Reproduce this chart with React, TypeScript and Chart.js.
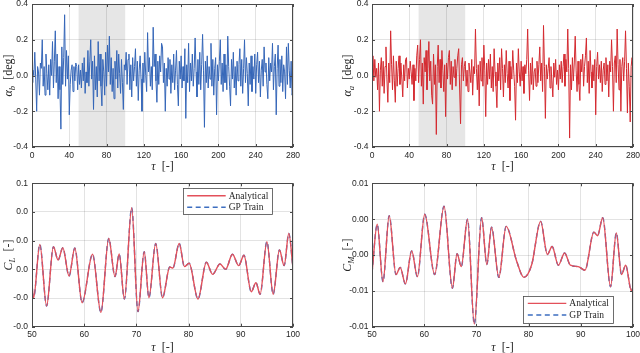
import React, { useEffect, useRef } from 'react';
import { Chart, registerables } from 'chart.js';
Chart.register(...registerables);

// ---------- data ----------
const alphaBValues = [
  -0.04, 0.03, 0.0, 0.13, -0.02, -0.2, 0.05, 0.02, -0.11, 0.07,
  0.04, 0.2, -0.06, 0.05, -0.11, 0.12, 0.01, -0.08, 0.06, -0.11,
  0.09, 0.0, 0.19, -0.07, 0.08, 0.25, -0.04, 0.12, -0.13, 0.05,
  -0.08, -0.3, 0.16, -0.05, 0.1, 0.34, -0.06, 0.14, -0.02, 0.11,
  -0.22, -0.05, 0.03, 0.06, -0.09, 0.05, -0.03, 0.07, 0.05, -0.08,
  0.06, -0.05, 0.03, -0.07, 0.07, -0.03, 0.1, -0.1, 0.02, -0.04,
  0.14, -0.06, 0.08, 0.2, -0.02, 0.08, -0.19, 0.11, -0.08, 0.05,
  -0.12, 0.19, -0.03, 0.12, -0.06, -0.17, 0.09, 0.02, -0.11, 0.13,
  -0.06, 0.17, 0.02, 0.22, -0.05, 0.1, -0.09, 0.04, -0.13, 0.08,
  -0.02, 0.14, -0.07, 0.12, 0.01, -0.1, 0.09, -0.04, -0.19, 0.06,
  0.03, 0.13, -0.05, 0.09, 0.12, -0.08, 0.06, -0.12, 0.1, -0.03,
  0.05, 0.15, -0.06, 0.08, -0.14, 0.03, 0.11, -0.02, -0.2, 0.07,
  -0.04, 0.13, 0.0, -0.09, 0.24, 0.02, 0.1, -0.06, 0.05, -0.08,
  0.27, 0.05, 0.12, -0.03, -0.15, 0.08, -0.05, 0.11, 0.02, 0.18,
  0.16, -0.04, 0.07, -0.2, 0.04, -0.06, 0.1, -0.02, 0.09, -0.1,
  0.06, -0.04, 0.12, -0.08, 0.03, 0.14, -0.05, -0.17, 0.08, -0.02,
  0.11, -0.07, 0.05, -0.03, 0.15, -0.24, 0.06, -0.04, 0.18, -0.09,
  0.07, -0.03, 0.12, -0.06, 0.04, 0.21, 0.02, -0.12, 0.09, -0.05,
  0.13, -0.08, 0.06, 0.23, 0.03, -0.29, 0.08, -0.04, 0.11, -0.07,
  0.05, -0.02, 0.18, -0.06, 0.09, -0.11, 0.04, 0.1, -0.22, 0.06,
  -0.03, 0.08, 0.2, -0.05, 0.07, -0.09, 0.12, -0.04, 0.06, -0.08,
  0.22, 0.05, -0.06, -0.17, 0.09, -0.02, 0.13, -0.07, 0.05, -0.11,
  0.08, -0.03, 0.06, 0.15, -0.06, 0.09, -0.1, 0.04, 0.2, -0.04,
  0.1, 0.01, -0.17, 0.07, -0.05, 0.11, -0.09, 0.05, -0.02, 0.12,
  -0.1, 0.06, 0.13, -0.04, 0.08, -0.12, 0.03, 0.09, -0.06, 0.16,
  0.02, 0.07, -0.05, -0.13, 0.1, -0.03, 0.07, 0.02, 0.18, -0.08,
  0.05, 0.12, -0.22, 0.04, 0.17, -0.06, 0.09, -0.04, 0.11, -0.09,
  0.06, 0.02, -0.13, 0.16, -0.05, 0.18, 0.03, -0.07, 0.08, -0.11,
  -0.08,
];

const alphaAValues = [
  0.05, 0.11, -0.03, 0.09, -0.01, 0.04, -0.08, 0.07, -0.2, 0.03,
  0.1, -0.06, 0.08, -0.1, 0.05, 0.16, -0.02, -0.15, 0.07, -0.04,
  0.25, 0.06, -0.08, 0.11, -0.03, -0.15, 0.08, -0.06, 0.04, 0.11,
  -0.05, 0.07, -0.02, -0.12, 0.06, -0.03, 0.09, 0.1, -0.07, 0.04,
  -0.02, 0.08, 0.02, -0.05, 0.06, -0.14, 0.04, -0.03, 0.11, 0.17,
  -0.04, 0.09, 0.2, -0.06, 0.07, -0.16, 0.1, 0.02, 0.14, -0.08,
  0.04, 0.19, -0.03, 0.08, -0.11, -0.16, 0.12, -0.05, 0.06, -0.33,
  0.05, 0.17, -0.04, 0.09, -0.07, 0.14, 0.03, -0.09, 0.06, -0.23,
  0.07, -0.02, 0.1, 0.14, -0.05, 0.08, -0.08, 0.05, -0.01, 0.09,
  -0.06, 0.04, 0.11, 0.15, -0.07, -0.27, 0.06, 0.1, -0.03, 0.05,
  0.08, -0.06, 0.03, -0.09, 0.07, 0.02, -0.04, 0.09, -0.11, 0.05,
  0.01, 0.26, 0.04, -0.08, 0.06, -0.17, 0.08, -0.03, 0.1, -0.06,
  0.17, 0.03, -0.23, 0.07, -0.05, 0.09, -0.02, 0.12, -0.07, 0.05,
  -0.09, 0.15, 0.02, -0.06, -0.18, 0.07, -0.03, 0.1, -0.08, 0.15,
  0.04, -0.12, 0.06, -0.04, 0.14, 0.01, -0.07, 0.08, -0.14, 0.05,
  -0.02, 0.14, 0.03, -0.06, -0.25, 0.07, -0.04, 0.15, 0.02, -0.06,
  0.08, -0.03, 0.05, -0.1, 0.06, 0.01, 0.09, 0.26, 0.03, -0.14,
  0.07, -0.05, 0.1, -0.08, 0.02, 0.04, -0.06, 0.08, -0.04, 0.06,
  0.16, -0.03, 0.07, -0.09, 0.28, 0.05, -0.24, 0.06, -0.02, 0.04,
  0.1, -0.07, 0.05, -0.03, -0.12, 0.07, -0.01, 0.09, -0.05, 0.03,
  -0.08, 0.06, -0.02, 0.08, -0.04, 0.05, 0.12, -0.06, 0.09, 0.02,
  0.26, 0.04, -0.35, 0.06, -0.08, 0.1, -0.03, 0.07, 0.22, 0.03,
  -0.09, 0.08, -0.05, -0.14, 0.09, 0.02, 0.12, -0.06, 0.05, 0.11,
  0.21, -0.04, 0.08, -0.1, 0.14, 0.02, -0.07, 0.06, -0.03, 0.09,
  -0.22, 0.05, 0.13, -0.02, 0.06, -0.04, 0.08, -0.09, 0.03, 0.07,
  -0.05, 0.1, -0.03, 0.06, -0.12, 0.08, 0.02, 0.2, 0.05, -0.2,
  0.07, 0.11, -0.04, 0.26, 0.06, -0.08, 0.09, -0.2, 0.05, 0.1,
  -0.03, 0.08, 0.25, 0.04, -0.21, 0.07, -0.06, -0.26, 0.05, 0.1,
  0.0,
];

const clTau = [
  50, 50.3, 51.5, 52.8, 54.1, 55.0, 55.9, 57.1, 58.2, 59.6,
  61.6, 63.2, 64.7, 65.9, 66.7, 67.7, 69.1, 70.3, 71.5, 72.4,
  73.7, 75.0, 76.4, 77.0, 78.2, 79.2, 80.1, 81.8, 83.4, 84.6,
  86.0, 87.1, 88.4, 89.6, 90.6, 92.0, 92.9, 93.7, 95.0, 96.2,
  97.4, 98.3, 99.2, 100,
];
const clValues = [
  -0.011, -0.02, 0.0174, -0.0256, 0.0158, 0.0065, 0.0151, -0.0047, 0.0149, -0.0233,
  0.0105, -0.03, 0.0216, -0.0051, 0.0107, -0.0207, 0.043, -0.0295, 0.0123, -0.0198,
  0.0181, -0.0198, 0.0016, 0.0009, 0.0181, 0.0019, 0.0042, -0.0207, 0.0049, -0.0035,
  0.0037, 0.0, 0.0105, 0.0026, 0.0098, -0.0156, -0.0093, -0.0174, 0.0193, -0.0174,
  0.0135, 0.0026, 0.0251, 0.0007,
];

const cmTau = [
  50, 51.0, 52.1, 53.3, 54.6, 55.4, 56.4, 57.6, 58.7, 60.1,
  62.0, 63.8, 65.4, 66.3, 67.1, 68.3, 69.6, 71.0, 72.0, 72.9,
  74.3, 75.7, 77.7, 79.1, 80.6, 82.3, 83.6, 84.5, 85.7, 86.9,
  88.0, 89.5, 90.8, 92.5, 93.2, 94.2, 95.7, 96.8, 97.8, 98.6,
  99.7, 100,
];
const cmValues = [
  -0.0025, 0.0043, -0.0037, 0.0055, -0.0027, -0.0017, -0.004, 0.0006, -0.003, 0.0057,
  -0.0027, 0.0068, -0.0046, 0.0002, -0.0016, 0.005, -0.0096, 0.0052, -0.0013, 0.0039,
  -0.0031, 0.004, -0.0008, -0.0031, -0.0013, 0.0047, 0.0001, 0.0012, -0.0014, 0.0003,
  -0.0014, -0.0016, -0.0021, 0.0032, 0.0027, 0.0052, -0.0044, 0.0031, -0.0027, -0.0014,
  -0.005, -0.0044,
];

const topXTickLabels = ['0', '40', '80', '120', '160', '200', '240', '280'];
const topYTickLabels = ['-0.4', '-0.2', '0.0', '0.2', '0.4'];
const bottomXTickLabels = ['50', '60', '70', '80', '90', '100'];
const clYTickLabels = ['-0.0', '-0.0', '0.0', '0.0', '0.0', '0.1'];
const cmYTickLabels = ['-0.01', '-0.01', '0.00', '0.00', '0.01'];
const trainWindow = [50, 100];
const seriesLabels = ['Analytical', 'GP Train'];

// ---------- styles ----------
const BLUE = '#3566b8';
const RED = '#d42a30';
const RED_LIGHT = '#e3505a';
const BLUE_DASH = '#3d6ec0';
const GRID = 'rgba(38,38,38,0.13)';
const AXIS = '#4a4a4a';
const TEXT = '#262626';
const SHADE = '#e6e6e6';
const SANS = '"Liberation Sans", Arial, sans-serif';
const SERIF = '"Liberation Serif", "DejaVu Serif", serif';

type Seg = { t: string; it?: boolean; sub?: boolean };
type Box = { x: number; y: number; w: number; h: number };
interface PanelSpec {
  datasets: any[];
  xMin: number; xMax: number; xStep: number; xLabels: string[];
  yMin: number; yMax: number; yStep: number; yLabels: string[];
  padTop: number; padRight: number; yAxisW: number; xAxisH: number;
  yTickPad: number; xTickPad: number;
  shade?: number[];
  xTitle: Seg[]; yTitle: Seg[]; yTitleX: number; xTitleY: number;
  legend?: Box;
}

function drawRich(ctx: CanvasRenderingContext2D, segs: Seg[], cx: number, cy: number, rotate: boolean) {
  const base = 12;
  const parts = segs.map((s) => {
    const size = s.sub ? base * 0.72 : base;
    const font = `${s.it ? 'italic ' : ''}${size}px ${SERIF}`;
    ctx.font = font;
    return { ...s, font, w: ctx.measureText(s.t).width };
  });
  const total = parts.reduce((a, p) => a + p.w, 0);
  ctx.save();
  ctx.translate(cx, cy);
  if (rotate) ctx.rotate(-Math.PI / 2);
  ctx.fillStyle = TEXT;
  ctx.textBaseline = 'alphabetic';
  ctx.textAlign = 'left';
  let x = -total / 2;
  for (const p of parts) {
    ctx.font = p.font;
    ctx.fillText(p.t, x, base * 0.33 + (p.sub ? base * 0.22 : 0));
    x += p.w;
  }
  ctx.restore();
}

function decoPlugin(p: PanelSpec) {
  return {
    id: 'deco',
    beforeDraw(chart: any) {
      if (!p.shade) return;
      const { ctx, chartArea: a } = chart;
      const xs = chart.scales.x;
      const x0 = xs.getPixelForValue(p.shade[0]);
      const x1 = xs.getPixelForValue(p.shade[1]);
      ctx.save();
      ctx.fillStyle = SHADE;
      ctx.fillRect(x0, a.top, x1 - x0, a.bottom - a.top);
      ctx.restore();
    },
    afterDraw(chart: any) {
      const { ctx, chartArea: a } = chart;
      const xs = chart.scales.x;
      const ys = chart.scales.y;
      ctx.save();
      ctx.strokeStyle = AXIS;
      ctx.lineWidth = 1;
      const tl = 3;
      ctx.beginPath();
      xs.ticks.forEach((t: any) => {
        const px = Math.round(xs.getPixelForValue(t.value)) + 0.5;
        ctx.moveTo(px, a.bottom); ctx.lineTo(px, a.bottom - tl);
        ctx.moveTo(px, a.top); ctx.lineTo(px, a.top + tl);
      });
      ys.ticks.forEach((t: any) => {
        const py = Math.round(ys.getPixelForValue(t.value)) + 0.5;
        ctx.moveTo(a.left, py); ctx.lineTo(a.left + tl, py);
        ctx.moveTo(a.right, py); ctx.lineTo(a.right - tl, py);
      });
      ctx.stroke();
      const l = Math.round(a.left) + 0.5, t0 = Math.round(a.top) + 0.5;
      const r = Math.round(a.right) - 0.5, b = Math.round(a.bottom) - 0.5;
      ctx.strokeRect(l, t0, r - l, b - t0);

      drawRich(ctx, p.xTitle, (a.left + a.right) / 2, p.xTitleY, false);
      drawRich(ctx, p.yTitle, p.yTitleX, (a.top + a.bottom) / 2, true);

      if (p.legend) {
        const L = p.legend;
        ctx.fillStyle = '#ffffff';
        ctx.fillRect(L.x, L.y, L.w, L.h);
        ctx.strokeStyle = AXIS;
        ctx.lineWidth = 0.8;
        ctx.strokeRect(Math.round(L.x) + 0.5, Math.round(L.y) + 0.5, Math.round(L.w), Math.round(L.h));
        chart.data.datasets.forEach((ds: any, i: number) => {
          const cy = L.y + 7.4 + i * 11.6;
          ctx.strokeStyle = ds.borderColor;
          ctx.lineWidth = ds.borderWidth;
          ctx.setLineDash(ds.borderDash || []);
          ctx.beginPath();
          ctx.moveTo(L.x + 4.5, cy);
          ctx.lineTo(L.x + 43, cy);
          ctx.stroke();
          ctx.setLineDash([]);
          ctx.fillStyle = TEXT;
          ctx.font = `9.5px ${SERIF}`;
          ctx.textBaseline = 'middle';
          ctx.textAlign = 'left';
          ctx.fillText(ds.label, L.x + 46, cy + 0.5);
        });
      }
      ctx.restore();
    },
  };
}

function buildChart(canvas: HTMLCanvasElement, p: PanelSpec) {
  const zeroPad = (s: any) => {
    s.paddingLeft = 0; s.paddingRight = 0; s.paddingTop = 0; s.paddingBottom = 0;
  };
  return new Chart(canvas, {
    type: 'line',
    data: { datasets: p.datasets },
    options: {
      animation: false,
      responsive: false,
      events: [],
      layout: { padding: { left: 0, top: p.padTop, right: p.padRight, bottom: 0 } },
      plugins: { legend: { display: false }, tooltip: { enabled: false } },
      elements: { point: { radius: 0 } },
      scales: {
        x: {
          type: 'linear',
          min: p.xMin,
          max: p.xMax,
          afterFit: (s: any) => { s.height = p.xAxisH; zeroPad(s); },
          grid: { color: GRID, drawTicks: false, lineWidth: 1 },
          border: { display: false },
          ticks: {
            stepSize: p.xStep,
            autoSkip: false,
            maxRotation: 0,
            padding: p.xTickPad,
            color: TEXT,
            font: { family: SANS, size: 8.5 },
            callback: (_v: any, i: number) => p.xLabels[i],
          },
        },
        y: {
          type: 'linear',
          min: p.yMin,
          max: p.yMax,
          afterFit: (s: any) => { s.width = p.yAxisW; zeroPad(s); },
          grid: { color: GRID, drawTicks: false, lineWidth: 1 },
          border: { display: false },
          ticks: {
            stepSize: p.yStep,
            autoSkip: false,
            padding: p.yTickPad,
            color: TEXT,
            font: { family: SANS, size: 8.5 },
            callback: (_v: any, i: number) => p.yLabels[i],
          },
        },
      },
    } as any,
    plugins: [decoPlugin(p)],
  } as any);
}

const topSeries = (vals: number[], color: string) => [{
  label: 'signal',
  data: vals.map((v, i) => ({ x: i, y: v })),
  borderColor: color,
  borderWidth: 1,
  pointRadius: 0,
  tension: 0,
  fill: false,
}];

const bottomSeries = (tau: number[], vals: number[]) => {
  const pts = tau.map((t, i) => ({ x: t, y: vals[i] }));
  return [
    {
      label: seriesLabels[0], data: pts, borderColor: RED_LIGHT, borderWidth: 1.4,
      pointRadius: 0, cubicInterpolationMode: 'monotone', fill: false,
    },
    {
      label: seriesLabels[1], data: pts, borderColor: BLUE_DASH, borderWidth: 1.4, borderDash: [5, 3.5],
      pointRadius: 0, cubicInterpolationMode: 'monotone', fill: false,
    },
  ];
};

const tauTitle: Seg[] = [{ t: 'τ', it: true }, { t: '  [-]' }];

const panels: { spec: PanelSpec; left: number; top: number; w: number; h: number }[] = [
  {
    left: 0, top: 0, w: 320, h: 175,
    spec: {
      datasets: topSeries(alphaBValues, BLUE),
      xMin: 0, xMax: 280, xStep: 40, xLabels: topXTickLabels,
      yMin: -0.4, yMax: 0.4, yStep: 0.2, yLabels: topYTickLabels,
      padTop: 4, padRight: 27, yAxisW: 32, xAxisH: 28, yTickPad: 4, xTickPad: 3.5,
      shade: trainWindow,
      xTitle: tauTitle,
      yTitle: [{ t: 'α', it: true }, { t: 'b', it: true, sub: true }, { t: '  [deg]' }],
      yTitleX: 8.5, xTitleY: 166,
    },
  },
  {
    left: 320, top: 0, w: 320, h: 175,
    spec: {
      datasets: topSeries(alphaAValues, RED),
      xMin: 0, xMax: 280, xStep: 40, xLabels: topXTickLabels,
      yMin: -0.4, yMax: 0.4, yStep: 0.2, yLabels: topYTickLabels,
      padTop: 4, padRight: 7, yAxisW: 52, xAxisH: 28, yTickPad: 3.5, xTickPad: 3.5,
      shade: trainWindow,
      xTitle: tauTitle,
      yTitle: [{ t: 'α', it: true }, { t: 'a', it: true, sub: true }, { t: '  [deg]' }],
      yTitleX: 27, xTitleY: 166,
    },
  },
  {
    left: 0, top: 175, w: 320, h: 178,
    spec: {
      datasets: bottomSeries(clTau, clValues),
      xMin: 50, xMax: 100, xStep: 10, xLabels: bottomXTickLabels,
      yMin: -0.04, yMax: 0.06, yStep: 0.02, yLabels: clYTickLabels,
      padTop: 8.3, padRight: 27, yAxisW: 32, xAxisH: 26.3, yTickPad: 4, xTickPad: 3,
      xTitle: tauTitle,
      yTitle: [{ t: 'C', it: true }, { t: 'L', it: true, sub: true }, { t: '  [-]' }],
      yTitleX: 8.5, xTitleY: 172,
      legend: { x: 182.7, y: 13.3, w: 89, h: 26 },
    },
  },
  {
    left: 320, top: 175, w: 320, h: 178,
    spec: {
      datasets: bottomSeries(cmTau, cmValues),
      xMin: 50, xMax: 100, xStep: 10, xLabels: bottomXTickLabels,
      yMin: -0.01, yMax: 0.01, yStep: 0.005, yLabels: cmYTickLabels,
      padTop: 8.3, padRight: 7, yAxisW: 52, xAxisH: 26, yTickPad: 3.5, xTickPad: 3,
      xTitle: tauTitle,
      yTitle: [{ t: 'C', it: true }, { t: 'M', it: true, sub: true }, { t: '  [-]' }],
      yTitleX: 27, xTitleY: 172,
      legend: { x: 203.3, y: 121, w: 90, h: 26.7 },
    },
  },
];

function Panel({ spec, left, top, w, h }: { spec: PanelSpec; left: number; top: number; w: number; h: number }) {
  const ref = useRef<HTMLCanvasElement>(null);
  useEffect(() => {
    const chart = buildChart(ref.current as HTMLCanvasElement, spec);
    return () => chart.destroy();
  }, []);
  return (
    <canvas
      ref={ref}
      width={w}
      height={h}
      style={{ position: 'absolute', left, top, width: w, height: h }}
    />
  );
}

export default function App() {
  return (
    <div style={{ position: 'absolute', left: 0, top: 0, width: 640, height: 353, background: '#ffffff' }}>
      {panels.map((p, i) => (
        <Panel key={i} spec={p.spec} left={p.left} top={p.top} w={p.w} h={p.h} />
      ))}
    </div>
  );
}
